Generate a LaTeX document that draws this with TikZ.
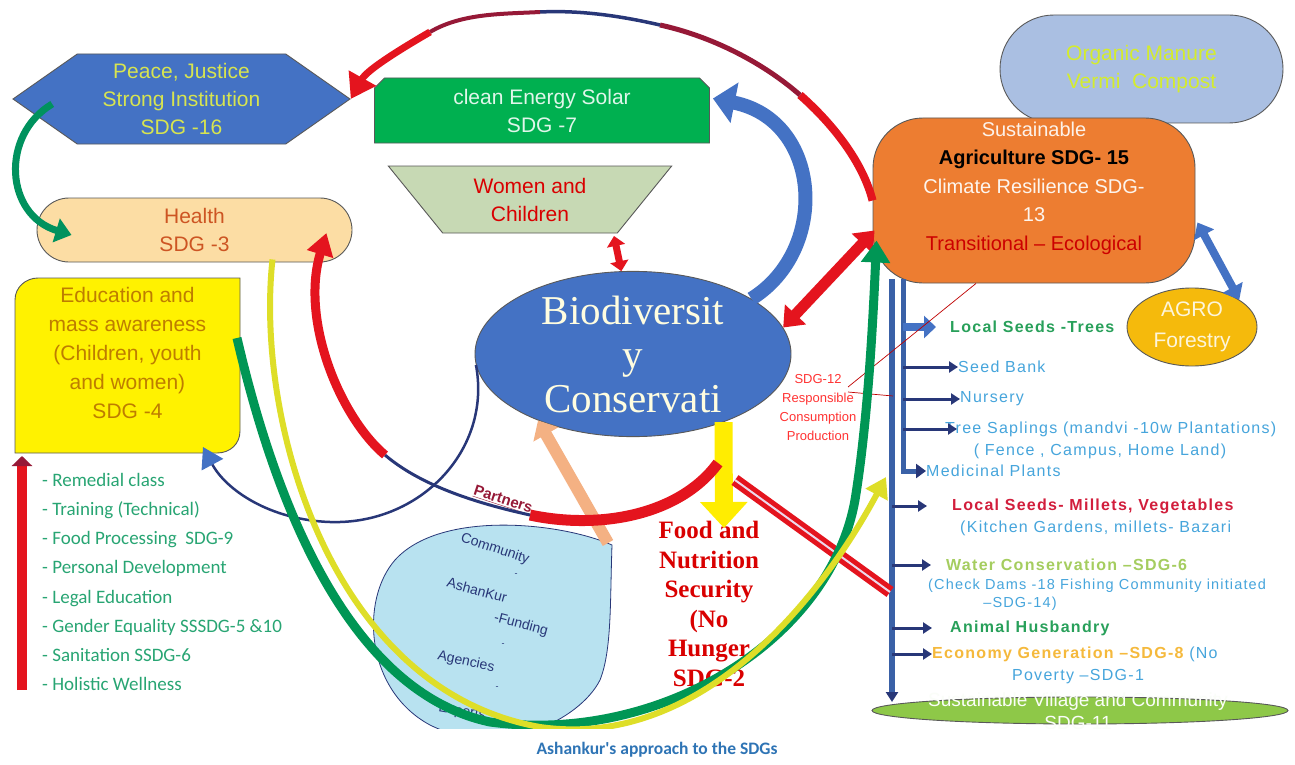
\documentclass[tikz,border=0pt]{standalone}
\usepackage{fontspec}
\setmainfont{Liberation Sans}
\newfontfamily\bioserif{Liberation Serif}
\newfontfamily\calibrifont{Carlito}
\newfontfamily\widefont[LetterSpace=8]{Liberation Sans}
\usetikzlibrary{shapes.geometric, shapes.misc, shapes.symbols, arrows.meta, positioning, calc}

\newcommand{\setfs}[2]{\fontsize{#1}{#2}\selectfont}

% colours of the chart
\definecolor{sdgblue}{RGB}{68,114,196}
\definecolor{inkblue}{RGB}{40,55,120}
\definecolor{solargreen}{RGB}{0,176,80}
\definecolor{leafgreen}{RGB}{0,150,85}
\definecolor{peach}{RGB}{252,221,164}
\definecolor{sage}{RGB}{199,217,180}
\definecolor{agriorange}{RGB}{237,125,49}
\definecolor{manureblue}{RGB}{170,191,226}
\definecolor{agrogold}{RGB}{245,186,12}
\definecolor{villagegreen}{RGB}{142,200,72}
\definecolor{dropblue}{RGB}{184,226,240}
\definecolor{salmon}{RGB}{244,177,131}
\definecolor{arcred}{RGB}{228,20,30}
\definecolor{wine}{RGB}{150,25,55}
\definecolor{arcyellow}{RGB}{222,222,40}
\definecolor{listgreen}{RGB}{40,165,115}
\definecolor{skyblue}{RGB}{70,165,220}
\definecolor{mintgreen}{RGB}{165,205,95}
\definecolor{amber}{RGB}{245,185,60}
\definecolor{brick}{RGB}{205,85,35}
\definecolor{mustard}{RGB}{190,125,0}
\definecolor{limetext}{RGB}{215,228,80}
\definecolor{manuretext}{RGB}{212,236,45}
\definecolor{captionblue}{RGB}{46,116,181}
\definecolor{seedred}{RGB}{210,30,60}
\definecolor{seedgreen}{RGB}{40,160,90}

\begin{document}
\begin{tikzpicture}[x=1pt, y=-1pt,
		fat/.style={line width=#1, line cap=butt},
		twig/.style={draw=inkblue, line width=3, -{Triangle[length=9pt, width=11pt]}}
	]
	\tikzstyle{Shape} = [ %common look of the boxes
		draw=black!65,
		line width=0.9pt,
		align=center,
		inner sep=0pt,
		font=\setfs{21}{28}
	]
	\tikzstyle{Item} = [anchor=west, inner sep=0pt, text=skyblue, font=\widefont\setfs{16}{20}]
	\tikzstyle{BoldItem} = [Item, font=\widefont\bfseries\setfs{16}{20}]
	\tikzstyle{DropText} = [inner sep=0pt, text=inkblue, font=\setfs{14}{18}]

	\useasboundingbox (0,0) rectangle (1295,765);
	\fill[white] (0,0) rectangle (1295,765);

	\begin{scope}
	\clip (0,0) rectangle (1295,728);

	% boxes
	\node (manure) [Shape, rounded rectangle, fill=manureblue, text=manuretext,
		minimum width=283, minimum height=108] at (1141.5,69) {Organic Manure\\Vermi~ Compost};
	\node (agri) [Shape, rectangle, rounded corners=50, fill=agriorange,
		minimum width=322, minimum height=165] at (1034,200.5) {};
	\node (agritext) [align=center, font=\setfs{20}{28.5}] at (1034,188) {
		\textcolor{white!90!agriorange}{Sustainable}\\
		\textbf{Agriculture SDG- 15}\\
		\textcolor{white!92!agriorange}{Climate Resilience SDG-}\\
		\textcolor{white!92!agriorange}{13}\\
		\textcolor{red!80!black}{Transitional -- Ecological}};
	\node (peace) [Shape, signal, signal to=west and east, signal pointer angle=70,
		fill=sdgblue, text=limetext, minimum width=337, minimum height=90] at (181.5,99)
		{Peace, Justice\\Strong Institution\\SDG -16};
	\node (solar) [Shape, chamfered rectangle, chamfered rectangle corners={north east,north west},
		chamfered rectangle xsep=5, chamfered rectangle ysep=5, fill=solargreen,
		text=white!88!solargreen, minimum width=335, minimum height=65] at (542,110.5)
		{clean Energy Solar\\SDG -7};
	\node (women) [Shape, trapezium, shape border rotate=180, trapezium angle=51,
		trapezium stretches=true, fill=sage, text=red!85!black,
		minimum width=284, minimum height=67] at (530,199.5) {Women and\\Children};
	\node (health) [Shape, rounded rectangle, fill=peach, text=brick,
		minimum width=315, minimum height=64] at (194.5,230) {Health\\SDG -3};

	\draw[fill=yellow, draw=black!65, line width=0.9pt] (15,453) -- (15,300)
		.. controls (15,287) and (26,278) .. (38,278) -- (240,278) -- (240,431)
		.. controls (240,444) and (230,453) .. (217,453) -- cycle;
	\node (edu) [align=center, text=mustard, font=\setfs{21}{29}] at (127.5,353)
		{Education and\\mass awareness\\(Children, youth\\and women)\\SDG -4};
	\coordinate (edutail) at (237,338);
	\coordinate (edutip) at (203,447);

	\node (bio) [Shape, ellipse, fill=sdgblue, text=white!88!yellow,
		minimum width=316, minimum height=152, font=\bioserif\setfs{41}{44}] at (633,354)
		{Biodiversit\\y\\Conservati};
	\node (agro) [Shape, ellipse, fill=agrogold, text=white!85!agrogold,
		minimum width=130, minimum height=78, font=\setfs{21}{31}] at (1192,327) {AGRO\\Forestry};
	\node (village) [Shape, ellipse, fill=villagegreen, minimum width=416, minimum height=27] at (1080,710.5) {};
	\node (villagetext) [align=center, text=white!96!villagegreen, font=\setfs{19}{23}] at (1078,711)
		{Sustainable Village and Community\\SDG-11};

	% partners drop
	\draw[fill=dropblue, draw=inkblue, line width=0.8pt] (612,545)
		.. controls (560,522) and (440,510) .. (395,560)
		.. controls (360,600) and (365,690) .. (430,725)
		.. controls (500,760) and (580,720) .. (600,680)
		.. controls (612,650) and (610,600) .. (612,545) -- cycle;
	\coordinate (droptop) at (608,543);
	\node (community) [DropText, rotate=-18] at (495,549) {Community};
	\node (dota) [DropText, font=\setfs{9}{10}] at (516,575) {-};
	\node (ashankur) [DropText, rotate=-15] at (477,590) {AshanKur};
	\node (funding) [DropText, rotate=-15] at (521,625) {-Funding};
	\node (dotb) [DropText, font=\setfs{9}{10}] at (503,645) {-};
	\node (agencies) [DropText, rotate=-12] at (466,662) {Agencies};
	\node (dotc) [DropText, font=\setfs{9}{10}] at (497,688) {-};
	\node (experts) [DropText, rotate=-10] at (462,712) {Experts};
	\node (partners) [rotate=-18, inner sep=0pt, text=wine, font=\bfseries\setfs{15}{18}] at (503,500)
		{\underline{Partners}};

	% texts under the arcs
	\node (food) [align=center, text=red!85!black, font=\bioserif\bfseries\setfs{25}{29.5}] at (709,604)
		{Food and\\Nutrition\\Security\\(No\\Hunger\\SDG-2};
	\node (sdg12) [align=center, text=red!80!white, font=\setfs{13}{19}] at (818,408)
		{SDG-12\\Responsible\\Consumption\\Production};
	\node (tasks) [anchor=north west, align=left, inner sep=0pt, text=listgreen,
		font=\calibrifont\setfs{19}{29.2}] at (42,473)
		{- Remedial class\\- Training (Technical)\\- Food Processing~ SDG-9\\- Personal Development\\
		 - Legal Education\\- Gender Equality SSSDG-5 \&10\\- Sanitation SSDG-6\\- Holistic Wellness};
	\coordinate (listfoot) at (22,690);
	\coordinate (listhead) at (22,456);

	% right hand list
	\node (trees) [BoldItem, text=seedgreen] at (950,327) {Local Seeds -Trees};
	\node (seedbank) [Item] at (958,367) {Seed Bank};
	\node (nursery) [Item] at (960,399) {Nursery};
	\node (saplings) [Item] at (945,429) {Tree Saplings (mandvi -10w Plantations)};
	\node (fence) [Item, anchor=center] at (1100,451) {( Fence , Campus, Home Land)};
	\node (medicinal) [Item] at (926,471) {Medicinal Plants};
	\node (millets) [BoldItem, text=seedred] at (952,506) {Local Seeds- Millets, Vegetables};
	\node (kitchen) [Item] at (960,528) {(Kitchen Gardens, millets- Bazari};
	\node (water) [BoldItem, text=mintgreen] at (946,565) {Water Conservation \textendash SDG-6};
	\node (checkdams) [Item, font=\widefont\setfs{14.5}{18}] at (928,586) {(Check Dams -18 Fishing Community initiated};
	\node (sdgfourteen) [Item, anchor=center, font=\widefont\setfs{14.5}{18}] at (1020,604) {\textendash SDG-14)};
	\node (husbandry) [BoldItem, text=seedgreen] at (950,628) {Animal Husbandry};
	\node (economy) [BoldItem, text=amber] at (932,654) {Economy Generation \textendash SDG-8 \mdseries\textcolor{skyblue}{(No}};
	\node (poverty) [Item, anchor=center] at (1078,677) {Poverty \textendash SDG-1};

	% trunk and branches
	\coordinate (trunktop) at (892,279);
	\coordinate (trunkfoot) at (892,702);
	\coordinate (stemtop) at (903,279);
	\draw[sdgblue!85!black, fat=6, -{Triangle[length=10pt, width=12pt, color=inkblue]}] (trunktop) -- (trunkfoot);
	\draw[sdgblue!85!black, line width=5, -{Triangle[length=10pt, width=14pt, color=inkblue]}] (stemtop) |- (medicinal.west);
	\draw[sdgblue, fat=8, -{Triangle[length=12pt, width=22pt]}] (trees.west -| stemtop) -- ($(trees.west)+(-14,0)$);
	\draw[twig] (seedbank.west -| stemtop) -- (seedbank.west);
	\draw[twig] (nursery.west -| stemtop) -- (nursery.west);
	\draw[twig] (saplings.west -| stemtop) -- ($(saplings.west)+(12,0)$);
	\draw[twig] (millets.west -| trunktop) -- ($(millets.west)+(-25,0)$);
	\draw[twig] (water.west -| trunktop) -- ($(water.west)+(-15,0)$);
	\draw[twig] (husbandry.west -| trunktop) -- ($(husbandry.west)+(-18,0)$);
	\draw[twig] (economy.west -| trunktop) -- (economy.west);

	% thin leaders of SDG-12
	\coordinate (hinta) at (848,387);
	\coordinate (hintb) at (848,392);
	\draw[red!75!black, line width=0.7] (hinta) -- ($(agri.south)+(-58,0)$);
	\draw[red!75!black, line width=0.7] (hintb) -- (893,396);

	% arrows
	\draw[leafgreen!80!teal, fat=7, -{Triangle[length=16pt, width=24pt]}] ($(peace.west)+(40,5)$)
		.. controls (0,135) and (5,215) .. ($(health.west)+(35,5)$);

	\coordinate (ta) at (800,95);
	\coordinate (tb) at (660,25);
	\coordinate (tc) at (540,12);
	\coordinate (td) at (430,32);
	\draw[arcred, fat=8] (agri.west) .. controls (863,163) and (834,125) .. (ta);
	\draw[wine, fat=5] (ta) .. controls (761,61) and (710,36) .. (tb);
	\draw[inkblue, fat=3.5] (tb) .. controls (621,16) and (580,10) .. (tc);
	\draw[wine, fat=4] (tc) .. controls (503,14) and (462,13) .. (td);
	\draw[arcred, fat=7, -{Triangle[length=24pt, width=30pt]}] (td) .. controls (399,50) and (367,70) .. (peace.east);

	\draw[sdgblue, fat=14, -{Triangle[length=22pt, width=40pt]}] (bio.25)
		.. controls (830,250) and (822,120) .. ($(solar.east)+(3,-12)$);

	\coordinate (wbase) at (614,236);
	\draw[arcred, fat=7, {Triangle[length=10pt, width=18pt]}-{Triangle[length=10pt, width=18pt]}] (wbase) -- (bio.98);
	\draw[arcred, fat=11, {Triangle[length=18pt, width=28pt]}-{Triangle[length=18pt, width=28pt]}]
		($(agri.west)+(2,30)$) -- (bio.10);
	\draw[sdgblue, fat=8, {Triangle[length=14pt, width=22pt]}-{Triangle[length=14pt, width=22pt]}]
		($(agri.east)+(2,22)$) -- (agro.30);

	\draw[salmon, fat=12, -{Triangle[length=16pt, width=28pt]}] (droptop) -- (bio.215);

	\coordinate (foodtip) at (724,528);
	\draw[yellow!95!orange, fat=18, -{Triangle[length=26pt, width=46pt]}] (bio.323) -- (foodtip);

	\coordinate (bandstart) at (735,480);
	\coordinate (bandend) at (890,592);
	\draw[arcred, double=violet!15, double distance=2, line width=5] (bandstart) -- (bandend);

	\coordinate (ra) at (530,515);
	\coordinate (rb) at (385,455);
	\coordinate (redtail) at (718,463);
	\draw[arcred, fat=11] (redtail) .. controls (680,515) and (600,530) .. (ra);
	\draw[inkblue, fat=3] (ra) .. controls (475,503) and (420,485) .. (rb);
	\draw[arcred, fat=9, -{Triangle[length=22pt, width=26pt]}] (rb)
		.. controls (340,417) and (300,320) .. ($(health.east)+(-26,3)$);

	\draw[inkblue, fat=2.5, -{Triangle[length=20pt, width=24pt, color=sdgblue]}] (bio.184)
		.. controls (492,450) and (420,525) .. (330,522)
		.. controls (270,520) and (226,490) .. (edutip);

	\draw[leafgreen, fat=9, -{Triangle[length=22pt, width=28pt]}] (edutail)
		.. controls (270,480) and (340,690) .. (490,722)
		.. controls (660,745) and (830,640) .. (855,500)
		.. controls (868,420) and (873,320) .. ($(agri.west)+(4,40)$);

	\coordinate (yellowtip) at (886,477);
	\draw[arcyellow, fat=6, -{Triangle[length=20pt, width=24pt]}] ($(health.south)+(78,-3)$)
		.. controls (255,420) and (330,690) .. (540,727)
		.. controls (700,750) and (820,600) .. (yellowtip);

	\draw[arcred, fat=10, -{Triangle[length=10pt, width=20pt, color=wine]}] (listfoot) -- (listhead);
	\end{scope}

	\node (caption) [text=captionblue, font=\calibrifont\bfseries\setfs{17.5}{21}] at (657,750)
		{Ashankur's approach to the SDGs};
\end{tikzpicture}
\end{document}
